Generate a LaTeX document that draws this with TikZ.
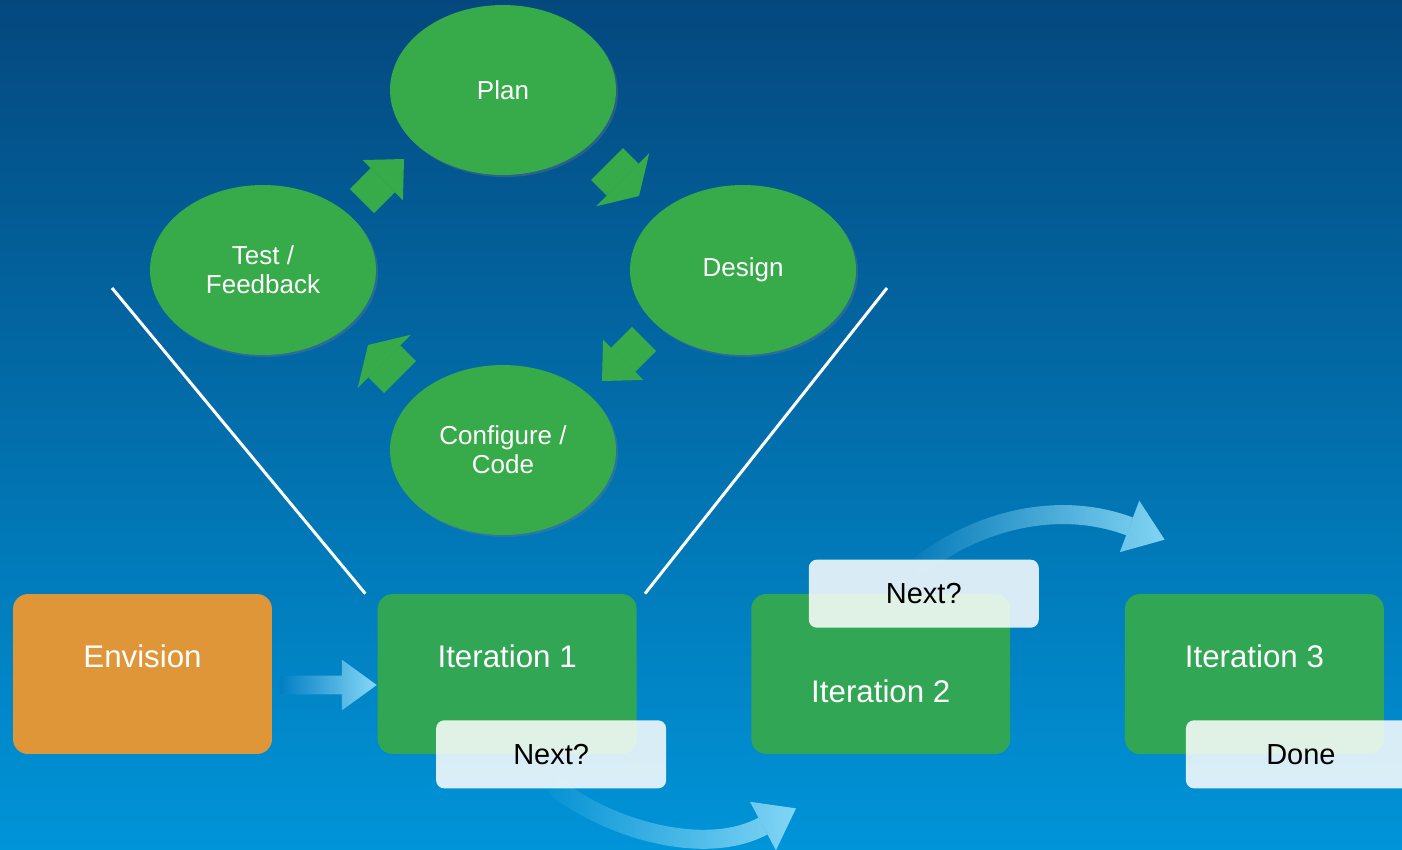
\documentclass[tikz,border=0pt]{standalone}
\usepackage{xcolor}
\usepackage{fontspec}
\setmainfont{Liberation Sans}
\usepackage{tikz}
\usetikzlibrary{positioning,arrows.meta,shapes,calc,shadows,fadings}

\definecolor{bgtop}{RGB}{4,72,126}
\definecolor{bgbottom}{RGB}{0,148,216}
\definecolor{cyclegreen}{RGB}{55,171,73}
\definecolor{boxgreen}{RGB}{49,166,84}
\definecolor{envorange}{RGB}{223,150,56}
\definecolor{skyarrow}{RGB}{135,216,246}
\definecolor{arrowbase}{RGB}{0,126,196}

\tikzfading[name=fadein, left color=transparent!100, middle color=transparent!35, right color=transparent!0]

\begin{document}
\begin{tikzpicture}[x=0.02cm, y=-0.02cm, node distance=2.3cm,
    phase/.style={ellipse, fill=cyclegreen, minimum width=4.52cm, minimum height=3.4cm, inner sep=0pt, text=white, align=center, font=\fontsize{14.8}{16.5}\selectfont, drop shadow={shadow xshift=1.2pt, shadow yshift=-1.2pt, opacity=0.3}},
    stage/.style={rectangle, rounded corners=0.3cm, minimum width=5.18cm, minimum height=3.2cm, inner sep=0pt, text=white, font=\fontsize{17.8}{21}\selectfont, text height=0.45cm, text depth=0.73cm},
    note/.style={rectangle, rounded corners=0.16cm, fill=white, fill opacity=0.85, text opacity=1, minimum width=4.6cm, minimum height=1.36cm, inner sep=0pt, font=\fontsize{16.5}{20}\selectfont},
    longarrow/.style={draw=cyclegreen, line width=0.68cm, -{Triangle[length=0.6cm, width=1.14cm, line width=0pt]}},
    widearrow/.style={draw=cyclegreen, line width=0.9cm, -{Triangle[length=0.46cm, width=1.5cm, line width=0pt]}},
    fadearrow/.style={draw=skyarrow, line width=0.38cm, path fading=fadein, -{Triangle[length=0.75cm, width=1.1cm, line width=0pt]}}]
  \useasboundingbox (0,0) rectangle (1402,849);
  \shade[top color=bgtop, bottom color=bgbottom] (0,0) rectangle (1402,849);

  % the cycle
  \node (plan) [phase] at (503,90) {Plan};
  \node (design) [phase] at (743,270) {Design};
  \node (test) [phase] at (263,270) {Test /\\Feedback};
  \node (config) [phase] at (503,450) {Configure /\\Code};
  \draw[longarrow] ($(test)!.5!(plan)+(-21,21)$) -- ($(test)!.5!(plan)+(21,-21)$);
  \draw[widearrow] ($(plan)!.5!(design)+(-16,-16)$) -- ($(plan)!.5!(design)+(16,16)$);
  \draw[longarrow] ($(design)!.5!(config)+(21,-21)$) -- ($(design)!.5!(config)+(-21,21)$);
  \draw[widearrow] ($(config)!.5!(test)+(17,17)$) -- ($(config)!.5!(test)+(-15,-15)$);

  % the stages
  \node (envision) [stage, fill=envorange] at (142.5,674) {Envision};
  \node (iter1) [stage, fill=boxgreen, right=2.1cm of envision] {Iteration 1};
  \node (iter2) [stage, fill=boxgreen, right=2.28cm of iter1, text height=1.2cm, text depth=0.08cm] {Iteration 2};
  \node (iter3) [stage, fill=boxgreen, right=2.28cm of iter2] {Iteration 3};

  \coordinate (funnelL) at (112,288);
  \coordinate (funnelR) at (887,288);
  \draw[white, line width=0.06cm] (funnelL) -- ($(iter1.north west)+(-12,0)$);
  \draw[white, line width=0.06cm] (funnelR) -- ($(iter1.north east)+(8,0)$);

  \node (envarrow) [single arrow, single arrow tip angle=72, single arrow head extend=0.32cm, inner xsep=0pt, inner ysep=0.18cm, minimum height=1.94cm, left color=arrowbase, middle color=skyarrow, right color=skyarrow] at ($(envision.east)!.5!(iter1.west)+(-3,11)$) {};

  \coordinate (hop1) at ($(iter2.south west)+(45,54)$);
  \coordinate (hop2) at ($(iter3.north west)+(40,-54)$);
  \draw[fadearrow] ($(iter1.south)+(38,23)$) .. controls +(45,45) and +(-97,52) .. (hop1);
  \draw[fadearrow] ($(iter2.north)+(31,-22)$) .. controls +(63,-52) and +(-106,-40) .. (hop2);

  \node (next1) [note] at ($(iter1.south)+(44,0)$) {Next?};
  \node (next2) [note] at ($(iter2.north)+(43,0)$) {Next?};
  \node (done) [note] at ($(iter3.south)+(46.5,0)$) {Done};
\end{tikzpicture}
\end{document}
